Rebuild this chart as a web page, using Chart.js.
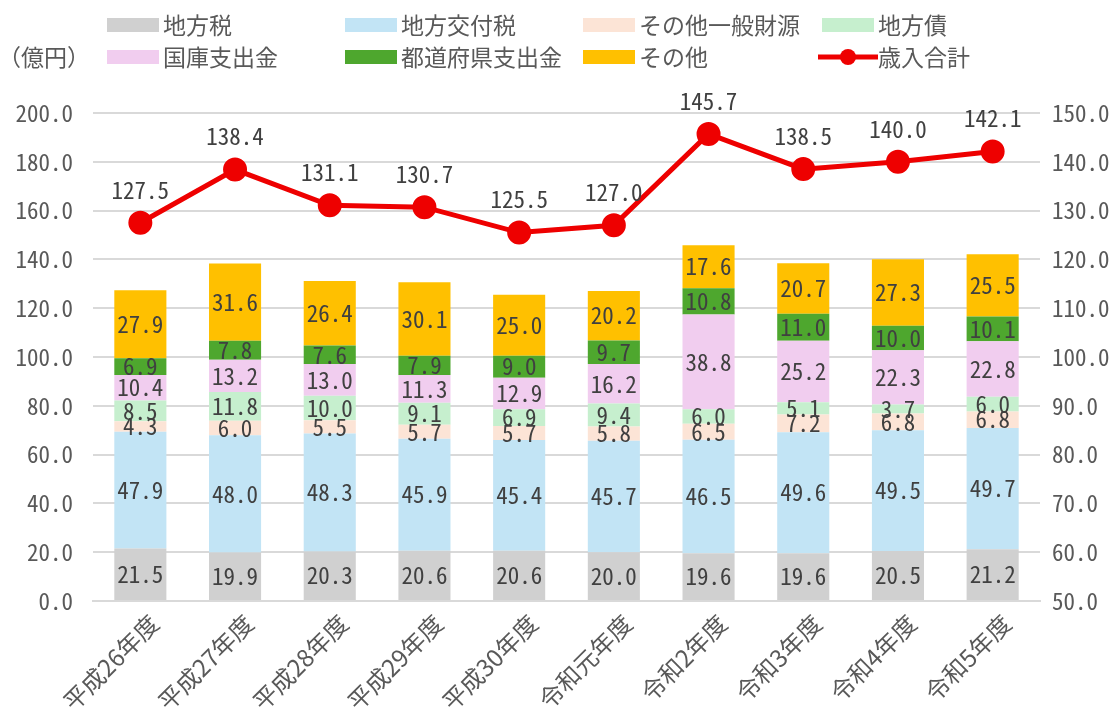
<!DOCTYPE html>
<html>
<head>
<meta charset="utf-8">
<script src="https://cdn.jsdelivr.net/npm/chart.js@4.4.1/dist/chart.umd.min.js"></script>
<style>
  html, body { margin: 0; padding: 0; background: #ffffff; }
  #wrap { width: 1120px; height: 711px; position: relative; }
</style>
</head>
<body>
<div id="wrap"><canvas id="chart" width="1120" height="711"></canvas></div>
<script>
// 歳入の内訳（億円）

const years = ["平成26年度", "平成27年度", "平成28年度", "平成29年度", "平成30年度",
               "令和元年度", "令和2年度", "令和3年度", "令和4年度", "令和5年度"];

const chihouzei      = [21.5, 19.9, 20.3, 20.6, 20.6, 20.0, 19.6, 19.6, 20.5, 21.2];
const koufuzei       = [47.9, 48.0, 48.3, 45.9, 45.4, 45.7, 46.5, 49.6, 49.5, 49.7];
const sonotaIppan    = [4.3, 6.0, 5.5, 5.7, 5.7, 5.8, 6.5, 7.2, 6.8, 6.8];
const chihousai      = [8.5, 11.8, 10.0, 9.1, 6.9, 9.4, 6.0, 5.1, 3.7, 6.0];
const kokkoShishutsu = [10.4, 13.2, 13.0, 11.3, 12.9, 16.2, 38.8, 25.2, 22.3, 22.8];
const kenShishutsu   = [6.9, 7.8, 7.6, 7.9, 9.0, 9.7, 10.8, 11.0, 10.0, 10.1];
const sonota         = [27.9, 31.6, 26.4, 30.1, 25.0, 20.2, 17.6, 20.7, 27.3, 25.5];
const sainyuGoukei   = [127.5, 138.4, 131.1, 130.7, 125.5, 127.0, 145.7, 138.5, 140.0, 142.1];

const leftTicks  = [0, 20, 40, 60, 80, 100, 120, 140, 160, 180, 200];
const rightTicks = [50, 60, 70, 80, 90, 100, 110, 120, 130, 140, 150];


const numFont = "'Noto Sans Mono CJK JP', 'Noto Sans CJK JP', 'Liberation Mono', monospace";
const jpFont  = "'Noto Sans CJK JP', 'Noto Sans', sans-serif";


function barSet(label, data, color){
    return {
        type: "bar",
        label: label,
        data: data,
        backgroundColor: color,
        borderWidth: 0,
        stack: "s",
        order: 1,
        barPercentage: 0.55,
        categoryPercentage: 1.0
    };
}


// ラベル描画（棒は中央、折れ線は点の上）
const valueLabels = {
    id: "valueLabels",
    afterDatasetsDraw(chart){
        const ctx = chart.ctx;
        ctx.save();
        ctx.font = "23px " + numFont;
        ctx.fillStyle = "#404040";
        ctx.textAlign = "center";
        ctx.textBaseline = "middle";

        chart.data.datasets.forEach((ds, i) => {
            const meta = chart.getDatasetMeta(i);
            meta.data.forEach((el, j) => {
                const v = ds.data[j];
                const txt = v.toFixed(1);
                if(ds.type === "bar"){
                    ctx.fillText(txt, el.x, (el.y + el.base) / 2);
                } else {
                    ctx.fillText(txt, el.x, el.y - 33);
                }
            });
        });
        ctx.restore();
    }
};


// 凡例（4列×2行）
const gridLegend = {
    id: "gridLegend",
    afterDraw(chart){
        const ctx = chart.ctx;
        const colX = [107, 345, 583, 822];
        const rowY = [25, 57];

        ctx.save();
        ctx.font = "23px " + jpFont;
        ctx.fillStyle = "#595959";
        ctx.textBaseline = "middle";
        ctx.textAlign = "left";
        ctx.fillText("（億円）", -2, rowY[1]);

        chart.data.datasets.forEach((ds, i) => {
            const x = colX[i % 4];
            const y = rowY[Math.floor(i / 4)];

            if(ds.type === "bar"){
                ctx.fillStyle = ds.backgroundColor;
                ctx.fillRect(x, y - 7, 52, 14);
            } else {
                ctx.strokeStyle = ds.borderColor;
                ctx.lineWidth = 5;
                ctx.beginPath();
                ctx.moveTo(x - 4, y);
                ctx.lineTo(x + 56, y);
                ctx.stroke();
                ctx.fillStyle = ds.borderColor;
                ctx.beginPath();
                ctx.arc(x + 26, y, 8, 0, Math.PI * 2);
                ctx.fill();
            }

            ctx.fillStyle = "#595959";
            ctx.fillText(ds.label, x + 56, y);
        });
        ctx.restore();
    }
};


const canvas = document.getElementById("chart");

new Chart(canvas, {

    data: {
        labels: years,
        datasets: [
            barSet("地方税", chihouzei, "#d0d0d0"),
            barSet("地方交付税", koufuzei, "#c2e4f5"),
            barSet("その他一般財源", sonotaIppan, "#fce4d6"),
            barSet("地方債", chihousai, "#c6efce"),
            barSet("国庫支出金", kokkoShishutsu, "#f1cdef"),
            barSet("都道府県支出金", kenShishutsu, "#4ea72e"),
            barSet("その他", sonota, "#ffc000"),
            {
                type: "line",
                label: "歳入合計",
                data: sainyuGoukei,
                yAxisID: "y2",
                borderColor: "#ee0000",
                backgroundColor: "#ee0000",
                borderWidth: 5,
                pointRadius: 9.5,
                pointHoverRadius: 9.5,
                tension: 0,
                order: 0
            }
        ]
    },

    options: {
        responsive: false,
        animation: false,
        layout: {
            padding: { top: 113, left: 0, right: 0, bottom: 0 }
        },
        plugins: {
            legend: { display: false },
            tooltip: { enabled: false }
        },
        scales: {
            x: {
                stacked: true,
                grid: { display: false },
                border: { color: "#d9d9d9", width: 2 },
                ticks: {
                    color: "#595959",
                    font: { family: jpFont, size: 24 },
                    minRotation: 45,
                    maxRotation: 45,
                    labelOffset: 14,
                    padding: 0
                },
                afterFit(scale){ scale.height = 110; }
            },
            y: {
                stacked: true,
                min: 0,
                max: 200,
                afterBuildTicks(scale){
                    scale.ticks = leftTicks.map(v => ({ value: v }));
                },
                grid: { color: "#d9d9d9", lineWidth: 2, drawTicks: false },
                border: { display: false },
                ticks: {
                    color: "#595959",
                    font: { family: numFont, size: 23 },
                    padding: 20,
                    callback: v => v.toFixed(1)
                },
                afterFit(scale){ scale.width = 93; }
            },
            y2: {
                position: "right",
                min: 50,
                max: 150,
                afterBuildTicks(scale){
                    scale.ticks = rightTicks.map(v => ({ value: v }));
                },
                grid: { display: false, drawTicks: false },
                border: { display: false },
                ticks: {
                    color: "#595959",
                    font: { family: numFont, size: 23 },
                    padding: 12,
                    callback: v => v.toFixed(1)
                },
                afterFit(scale){ scale.width = 80; }
            }
        }
    },

    plugins: [valueLabels, gridLegend]
});
</script>
</body>
</html>
